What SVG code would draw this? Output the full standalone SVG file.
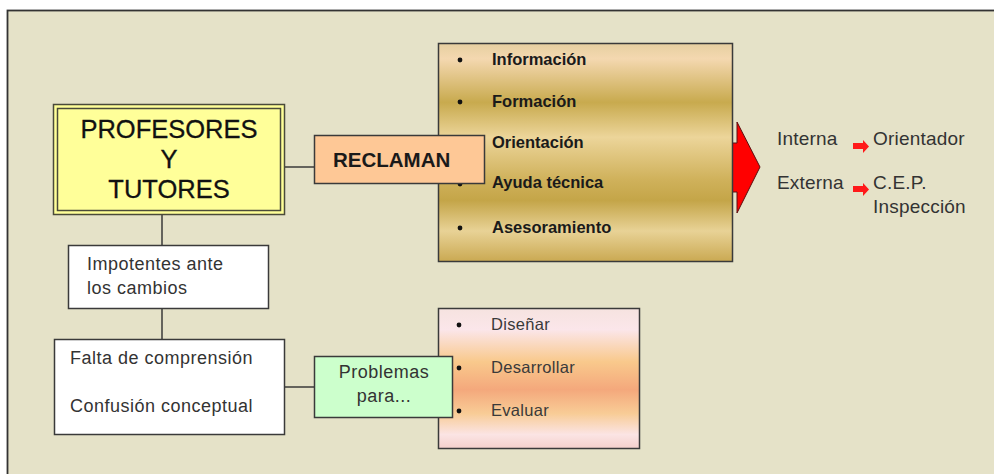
<svg xmlns="http://www.w3.org/2000/svg" width="994" height="474" viewBox="0 0 994 474">
<defs>
<style>
.box{stroke:#3a3a3a;stroke-width:1.5}
.ln{stroke:#3a3a3a;stroke-width:1.5;fill:none}
.big{font-family:"Liberation Sans",Arial,sans-serif;font-size:25.5px;fill:#111;text-anchor:middle;stroke:#111;stroke-width:0.3}
.btn{font-family:"Liberation Sans",Arial,sans-serif;font-size:20.5px;font-weight:bold;fill:#1a1a1a}
.gold{font-family:"Liberation Sans",Arial,sans-serif;font-size:16.5px;font-weight:bold;fill:#1a1a1a}
.txt{font-family:"Liberation Sans",Arial,sans-serif;font-size:18px;fill:#333;letter-spacing:0.5px}
.dst{font-family:"Liberation Sans",Arial,sans-serif;font-size:19px;fill:#333;letter-spacing:0.2px}
.pink{font-family:"Liberation Sans",Arial,sans-serif;font-size:16.5px;fill:#3a3a3a;letter-spacing:0.3px}
.bul{fill:#111}
</style>
<linearGradient id="gGold" x1="0" y1="0" x2="0" y2="1">
<stop offset="0" stop-color="#e6cfa0"/>
<stop offset="0.07" stop-color="#f4d8b0"/>
<stop offset="0.27" stop-color="#c8aa4e"/>
<stop offset="0.43" stop-color="#ecd59a"/>
<stop offset="0.62" stop-color="#d0b25c"/>
<stop offset="0.72" stop-color="#c4a548"/>
<stop offset="0.86" stop-color="#e8d296"/>
<stop offset="1" stop-color="#caa952"/>
</linearGradient>
<linearGradient id="gPink" x1="0" y1="0" x2="0" y2="1">
<stop offset="0" stop-color="#f6e3e0"/>
<stop offset="0.15" stop-color="#fbe6ea"/>
<stop offset="0.38" stop-color="#f9c98c"/>
<stop offset="0.58" stop-color="#f4a87c"/>
<stop offset="0.75" stop-color="#f8cc96"/>
<stop offset="0.9" stop-color="#fbe4e4"/>
<stop offset="1" stop-color="#f4d0cc"/>
</linearGradient>
</defs>
<rect x="0" y="0" width="994" height="474" fill="#ffffff"/>
<rect x="7.5" y="10.5" width="1000" height="480" fill="#e5e2c8" stroke="#333" stroke-width="1.8"/>

<g id="connectors">
<line class="ln" x1="285" y1="167" x2="315" y2="167"/>
<line class="ln" x1="162" y1="215" x2="162" y2="245"/>
<line class="ln" x1="162" y1="309" x2="162" y2="340"/>
<line class="ln" x1="285" y1="387" x2="315" y2="387"/>
</g>

<g id="arrow-big">
<polygon points="731,143 737,143 737,122 760,167 737,213 737,192 731,192" fill="#ff0000" stroke="#5a1010" stroke-width="1"/>
</g>

<g id="gold-list">
<rect class="box" x="438.5" y="43.5" width="294" height="218" fill="url(#gGold)"/>
<circle class="bul" cx="460" cy="60" r="2.4"/>
<circle class="bul" cx="460" cy="102" r="2.4"/>
<circle class="bul" cx="460" cy="143" r="2.4"/>
<circle class="bul" cx="460" cy="184" r="2.4"/>
<circle class="bul" cx="460" cy="228" r="2.4"/>
<text class="gold" x="492" y="65">Información</text>
<text class="gold" x="492" y="107">Formación</text>
<text class="gold" x="492" y="148">Orientación</text>
<text class="gold" x="492" y="188">Ayuda técnica</text>
<text class="gold" x="492" y="233">Asesoramiento</text>
</g>

<g id="profesores">
<rect x="53.5" y="104.5" width="231" height="110" fill="#ffff99" stroke="#4a4a3a" stroke-width="1.5"/>
<rect x="57.5" y="108.5" width="223" height="102" fill="none" stroke="#4a4a3a" stroke-width="1.5"/>
<text class="big" x="169" y="138">PROFESORES</text>
<text class="big" x="169" y="168">Y</text>
<text class="big" x="169" y="198">TUTORES</text>
</g>

<g id="reclaman">
<rect class="box" x="314.5" y="135.5" width="170" height="48" fill="#fec896"/>
<text class="btn" x="333" y="167">RECLAMAN</text>
</g>

<g id="destinos">
<text class="dst" x="777" y="145">Interna</text>
<text class="dst" x="873" y="145">Orientador</text>
<text class="dst" x="777" y="189">Externa</text>
<text class="dst" x="873" y="189">C.E.P.</text>
<text class="dst" x="873" y="213">Inspección</text>
<polygon points="853,143 863,143 863,140 869,146.5 863,153 863,149 853,149" fill="#ff1a1a"/>
<polygon points="853,186 863,186 863,183 869,189.5 863,196 863,192 853,192" fill="#ff1a1a"/>
</g>

<g id="impotentes">
<rect class="box" x="68.5" y="245.5" width="200" height="63" fill="#ffffff"/>
<text class="txt" x="87" y="270">Impotentes ante</text>
<text class="txt" x="87" y="294">los cambios</text>
</g>

<g id="falta">
<rect class="box" x="54.5" y="339.5" width="230" height="95" fill="#ffffff"/>
<text class="txt" x="70" y="364">Falta de comprensión</text>
<text class="txt" x="70" y="412">Confusión conceptual</text>
</g>

<g id="pink-list">
<rect class="box" x="438.5" y="308.5" width="201" height="140" fill="url(#gPink)"/>
<circle class="bul" cx="459" cy="325" r="2.4"/>
<circle class="bul" cx="459" cy="368" r="2.4"/>
<circle class="bul" cx="459" cy="411" r="2.4"/>
<text class="pink" x="491" y="330">Diseñar</text>
<text class="pink" x="491" y="373">Desarrollar</text>
<text class="pink" x="491" y="416">Evaluar</text>
</g>

<g id="problemas">
<rect class="box" x="314.5" y="356.5" width="138" height="61" fill="#ccffcc"/>
<text class="txt" x="384" y="378" text-anchor="middle">Problemas</text>
<text class="txt" x="384" y="402" text-anchor="middle">para...</text>
</g>
</svg>
